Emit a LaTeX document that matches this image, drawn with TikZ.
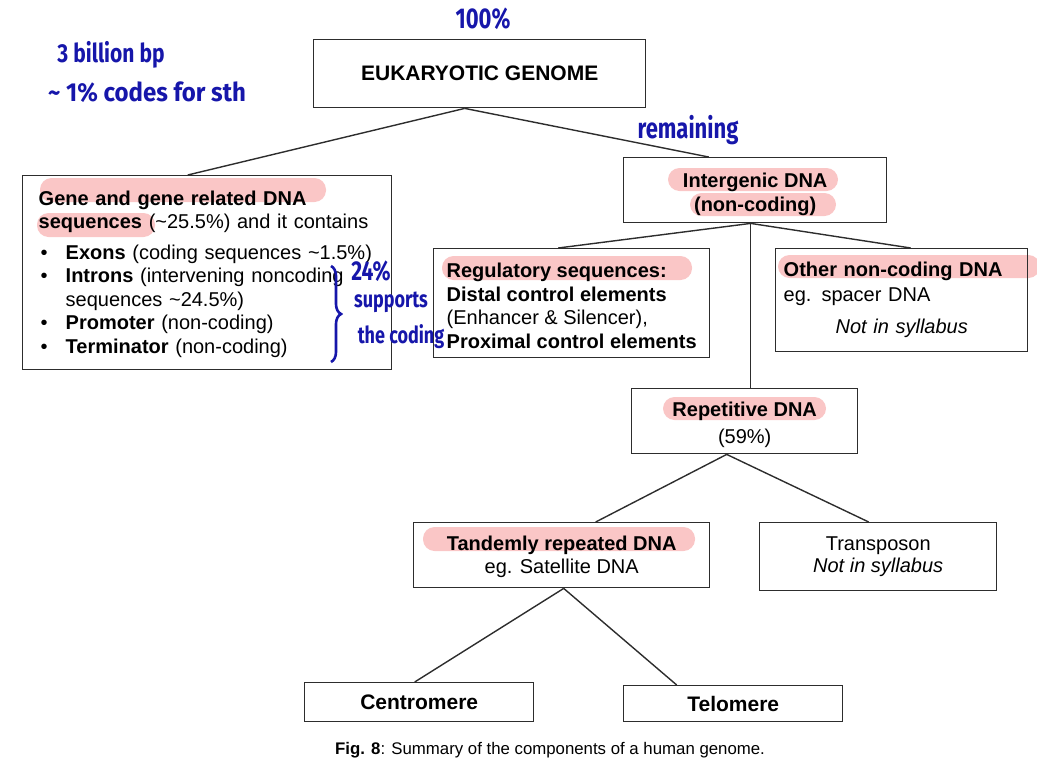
\documentclass[tikz,border=0pt]{standalone}
\usepackage{fontspec}
\setmainfont{Liberation Sans}
\newfontfamily\handfont{Fira Sans}
\usetikzlibrary{calc,decorations.pathreplacing}

\definecolor{penblue}{RGB}{22,22,170}
\definecolor{marker}{RGB}{250,198,198}
\definecolor{boxline}{RGB}{45,45,45}

\newcommand{\itemdot}{\makebox[27pt][l]{\hspace{2pt}\textbullet}}
\newcommand{\hand}[2][1]{\scalebox{#1}[1.3]{#2}}

\begin{document}
\begin{tikzpicture}[x=1pt, y=-1pt,
  box/.style={draw=boxline, line width=1.4pt, inner sep=0pt, anchor=north west,
    font=\fontsize{20}{23.5}\selectfont},
  link/.style={draw=boxline, line width=1.4pt},
  hilite/.style={fill=marker, rounded corners=11.5pt},
  pen/.style={text=penblue, inner sep=0pt, font=\handfont\bfseries\fontsize{20}{24}\selectfont}]

  \useasboundingbox (0,0) rectangle (1037,774);

  % Highlighter marks
  \fill[hilite] (40,178) rectangle (326,202);
  \fill[hilite] (37,213) rectangle (155,237);
  \fill[hilite] (668,168) rectangle (838,191);
  \fill[hilite] (690,193) rectangle (836,216);
  \fill[hilite] (442,256) rectangle (692,280);
  \fill[hilite] (778,255) rectangle (1040,278);
  \fill[hilite] (663,397) rectangle (826,420);
  \fill[hilite] (423,527) rectangle (695,551);

  % Boxes
  \node[box, minimum width=332, minimum height=68, font=\fontsize{21}{24}\selectfont\bfseries]
    (genome) at (313,39) {EUKARYOTIC GENOME};
  \node[box, minimum width=369, minimum height=194, text width=337, align=left]
    (gene) at (22,175) {\rule{0pt}{17.5pt}\textbf{Gene and gene related DNA}\\
      \textbf{sequences} (\textasciitilde25.5\%) and it contains\\[7pt]
      \itemdot\textbf{Exons} (coding sequences \textasciitilde1.5\%)\\
      \itemdot\textbf{Introns} (intervening noncoding\\
      \hspace*{27pt}sequences \textasciitilde24.5\%)\\
      \itemdot\textbf{Promoter} (non-coding)\\
      \itemdot\textbf{Terminator} (non-coding)};
  \node[box, minimum width=263, minimum height=65, align=center, font=\fontsize{20}{24}\selectfont\bfseries]
    (inter) at (623,157) {\rule{0pt}{22.6pt}Intergenic DNA\\(non-coding)};
  \node[box, minimum width=276, minimum height=109, align=left]
    (reg) at (433,248) {\rule{0pt}{19.6pt}\textbf{Regulatory sequences:}\\
      \textbf{Distal control elements}\\
      (Enhancer \& Silencer),\\
      \textbf{Proximal control elements}};
  \node[box, minimum width=252, minimum height=103, text width=236, align=left]
    (other) at (775,248) {\textbf{Other non-coding DNA}\\[1pt]
      eg. spacer DNA\\[9pt]
      \makebox[\hsize][c]{\itshape Not in syllabus}};
  \node[box, minimum width=226, minimum height=65, align=center]
    (rep) at (631,388) {\rule{0pt}{22.6pt}\textbf{Repetitive DNA}\\[3.5pt](59\%)};
  \node[box, minimum width=296, minimum height=65, align=center]
    (tandem) at (413,522) {\rule{0pt}{18pt}\textbf{Tandemly repeated DNA}\\eg. Satellite DNA};
  \node[box, minimum width=237, minimum height=68, align=center]
    (transpo) at (759,522) {Transposon\\[-1pt]\textit{Not in syllabus}};
  \node[box, minimum width=229, minimum height=39, font=\fontsize{21}{24}\selectfont\bfseries]
    (centro) at (304,682) {Centromere};
  \node[box, minimum width=219, minimum height=36, font=\fontsize{21}{24}\selectfont\bfseries]
    (telo) at (623,685) {Telomere};

  % Tree lines
  \draw[link] ($(genome.south)+(-15,0)$) -- ($(gene.north)+(-19.5,0)$);
  \draw[link] ($(genome.south)+(-15,0)$) -- ($(inter.north)+(-46.5,0)$);
  \draw[link] ($(inter.south)+(-4.5,0)$) -- ($(reg.north)+(-13.5,0)$);
  \draw[link] ($(inter.south)+(-4.5,0)$) -- ($(other.north)+(9,0)$);
  \draw[link] ($(inter.south)+(-4.5,0)$) -- ($(rep.north)+(6,0)$);
  \draw[link] ($(rep.south)+(-18,0)$) -- ($(tandem.north)+(34,0)$);
  \draw[link] ($(rep.south)+(-18,0)$) -- ($(transpo.north)+(-9.5,0)$);
  \draw[link] ($(tandem.south)+(2,0)$) -- ($(centro.north)+(-4.5,0)$);
  \draw[link] ($(tandem.south)+(2,0)$) -- ($(telo.north)+(-56.5,0)$);

  % Handwritten notes
  \node[pen, font=\handfont\bfseries\fontsize{22}{24}\selectfont] (full) at (483,19) {\hand{100\%}};
  \node[pen] (bp) at (111,55) {\hand[1.05]{3 billion bp}};
  \node[pen] (codes) at (147,92) {\hand[1.2]{\textasciitilde\ 1\% codes for sth}};
  \node[pen, font=\handfont\bfseries\fontsize{22}{24}\selectfont] (remain) at (688,130) {\hand{remaining}};
  \node[pen, font=\handfont\bfseries\fontsize{21}{24}\selectfont] (quarter) at (371,271) {\hand{24\%}};
  \node[pen, font=\handfont\bfseries\fontsize{18}{24}\selectfont] (supp) at (391,302) {\hand{supports}};
  \node[pen, font=\handfont\bfseries\fontsize{18}{24}\selectfont] (coding) at (401,337) {\hand{the coding}};
  \draw[penblue, line width=2.6pt, decorate, decoration={brace, amplitude=10pt}]
    (331,266) -- (331,362);

  % Caption
  \node[font=\fontsize{16.8}{20}\selectfont] (caption) at (550,750)
    {\textbf{Fig. 8}: Summary of the components of a human genome.};
\end{tikzpicture}
\end{document}
